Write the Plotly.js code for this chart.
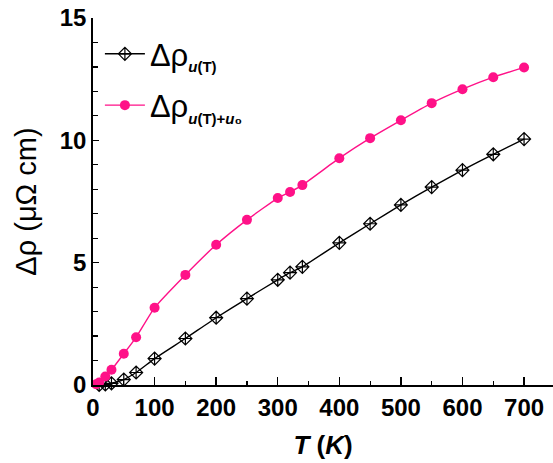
<!DOCTYPE html>
<html>
<head>
<meta charset="utf-8">
<script src="https://cdn.plot.ly/plotly-3.0.1.min.js"></script>
<style>html,body{margin:0;padding:0;background:#fff;}#chart{width:553px;height:463px;}</style>
</head>
<body>
<div id="chart"></div>
<script>
// Series 1: Δρ u(T)
const T_u = [10, 20, 30, 50, 70, 100, 150, 200, 250, 300, 320, 340, 400, 450, 500, 550, 600, 650, 700];
const rho_u = [0.0, 0.02, 0.07, 0.22, 0.51, 1.08, 1.9, 2.75, 3.53, 4.3, 4.59, 4.83, 5.81, 6.59, 7.36, 8.09, 8.78, 9.43, 10.05];
// Series 2: Δρ u(T)+u0
const T_u0 = [5, 10, 20, 30, 50, 70, 100, 150, 200, 250, 300, 320, 340, 400, 450, 500, 550, 600, 650, 700];
const rho_u0 = [0.03, 0.1, 0.35, 0.62, 1.28, 1.95, 3.16, 4.5, 5.73, 6.75, 7.64, 7.89, 8.17, 9.27, 10.09, 10.82, 11.52, 12.09, 12.58, 12.98];

const xTicks = [0, 100, 200, 300, 400, 500, 600, 700];
const yTicks = [0, 5, 10, 15];

const pink = '#ff1188';
const FONT = 'Liberation Sans, Arial, sans-serif';
const subStyle = 'font-size:15px;font-weight:bold';

const traces = [
  {
    x: T_u, y: rho_u, type: 'scatter', mode: 'lines+markers',
    name: 'Δρ<sub><span style="' + subStyle + '"><i>u</i>(T)</span></sub>',
    legendgroup: 'a',
    line: {color: '#000', width: 1.4, shape: 'spline', smoothing: 0.4},
    marker: {symbol: 'diamond-cross-open', size: 10, color: '#000', line: {color: '#000', width: 1.2}},
    cliponaxis: false
  },
  {
    x: T_u0, y: rho_u0, type: 'scatter', mode: 'lines+markers',
    name: 'Δρ<sub><span style="' + subStyle + '"><i>u</i>(T)+<i>u</i><span style="font-size:17px">₀</span></span></sub>',
    legendgroup: 'b',
    line: {color: pink, width: 1.4, shape: 'spline', smoothing: 0.4},
    marker: {symbol: 'circle', size: 10, color: pink},
    cliponaxis: false
  }
];

const layout = {
  width: 553, height: 463,
  margin: {l: 93, r: 0, t: 17.5, b: 77.5},
  paper_bgcolor: '#fff', plot_bgcolor: '#fff',
  font: {family: FONT, color: '#000'},
  showlegend: true,
  legend: {
    x: 0.015, y: 0.975, xanchor: 'left', yanchor: 'top',
    bgcolor: 'rgba(0,0,0,0)', borderwidth: 0,
    font: {size: 31, family: FONT, color: '#000'},
    itemwidth: 40,
    tracegroupgap: 8
  },
  xaxis: {
    range: [0, 747], tickvals: xTicks, ticktext: xTicks.map(v => '<b>' + v + '</b>'),
    ticks: 'inside', ticklen: 8, tickwidth: 1.5, tickcolor: '#000',
    minor: {dtick: 50, tick0: 0, ticks: 'inside', ticklen: 4, tickwidth: 1.2, tickcolor: '#000', showgrid: false},
    showline: true, linecolor: '#000', linewidth: 1.8,
    showgrid: false, zeroline: false,
    tickfont: {size: 24, family: FONT, color: '#000'},
    title: {text: '<b><i>T</i> (<i>K</i>)</b>', font: {size: 26, family: FONT, color: '#000'}, standoff: 16}
  },
  yaxis: {
    range: [0, 15], tickvals: yTicks, ticktext: yTicks.map(v => '<b>' + v + '</b>'),
    ticks: 'inside', ticklen: 6, tickwidth: 1.5, tickcolor: '#000',
    minor: {dtick: 1, tick0: 0, ticks: 'inside', ticklen: 5, tickwidth: 1.2, tickcolor: '#000', showgrid: false},
    showline: true, linecolor: '#000', linewidth: 1.8,
    showgrid: false, zeroline: false,
    tickfont: {size: 24, family: FONT, color: '#000'},
    title: {text: 'Δρ (μΩ cm)', font: {size: 29, family: FONT, color: '#000'}, standoff: 14}
  }
};

Plotly.newPlot('chart', traces, layout, {displayModeBar: false, staticPlot: true});
</script>
</body>
</html>
